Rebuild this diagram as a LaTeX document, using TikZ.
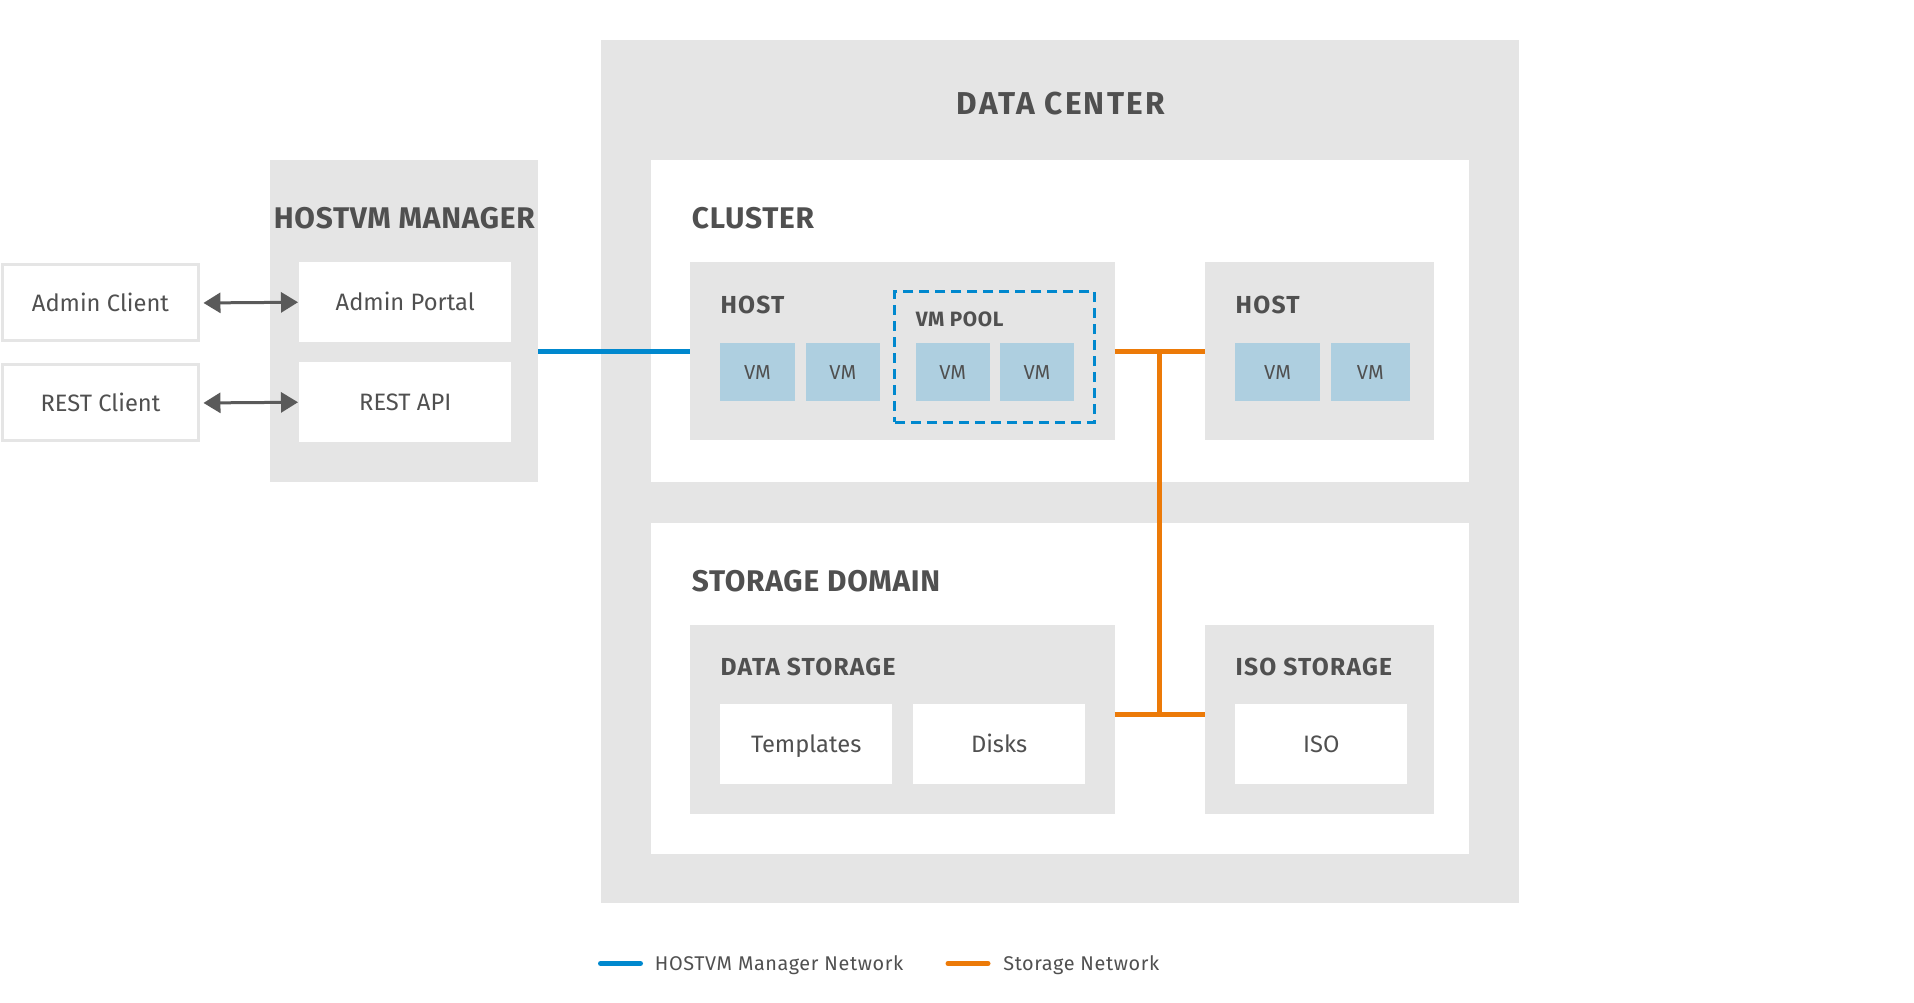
\documentclass[tikz,border=0pt]{standalone}
\usepackage{fontspec}
\setmainfont{Fira Sans}
\usetikzlibrary{arrows.meta}

\definecolor{boxgray}{HTML}{E5E5E5}
\definecolor{vmblue}{HTML}{AECFE0}
\definecolor{txtgray}{HTML}{505050}
\definecolor{netblue}{HTML}{0088CE}
\definecolor{netorange}{HTML}{EC7A08}
\definecolor{arrowgray}{HTML}{5A5A5A}

\begin{document}
\begin{tikzpicture}[x=0.02cm,y=-0.02cm,>={Triangle[length=0.34cm,width=0.4cm]},text=txtgray]
\tikzstyle{area}=[fill=boxgray,draw=none,inner sep=0,outer sep=0,anchor=north west]
\tikzstyle{panel}=[fill=white,draw=none,inner sep=0,outer sep=0,anchor=north west,text height=9.3pt,text depth=0pt,font=\fontsize{13.5}{16}\selectfont]
\tikzstyle{client}=[panel,draw=boxgray,line width=0.06cm]
\tikzstyle{vm}=[fill=vmblue,draw=none,inner sep=0,outer sep=0,anchor=north west,minimum height=1.17cm,text height=7.9pt,text depth=0pt,font=\fontsize{11.5}{14}\selectfont]
\tikzstyle{title}=[anchor=base west,inner sep=0,font=\bfseries\fontsize{17}{20}\selectfont\addfontfeature{LetterSpace=2.5}]
\tikzstyle{subtitle}=[anchor=base west,inner sep=0,font=\bfseries\fontsize{14}{16}\selectfont\addfontfeature{LetterSpace=5}]
\tikzstyle{legend}=[anchor=base west,inner sep=0,font=\fontsize{11.3}{13}\selectfont\addfontfeature{LetterSpace=3}]
\useasboundingbox (0,0) rectangle (1914,1003);

% data center
\node[area,minimum width=18.38cm,minimum height=17.26cm] (dc) at (600.6,40.3) {};
\node[title,anchor=base,font=\bfseries\fontsize{18}{21}\selectfont\addfontfeature{LetterSpace=7}] (dctitle) at (1060.8,114.3) {DATA CENTER};

% cluster
\node[panel,minimum width=16.38cm,minimum height=6.45cm] (cluster) at (650.6,159.9) {};
\node[title] (cltitle) at (691.5,229) {CLUSTER};
\node[area,minimum width=8.5cm,minimum height=3.56cm] (host1) at (689.7,262.5) {};
\node[subtitle] (h1title) at (720.2,313.3) {HOST};
\node[vm,minimum width=1.49cm] (vm1) at (720.2,343) {VM};
\node[vm,minimum width=1.49cm] (vm2) at (805.6,343) {VM};
\node[draw=netblue,line width=0.055cm,dash pattern=on 0.2cm off 0.12cm,inner sep=0,outer sep=0,anchor=north west,minimum width=4cm,minimum height=2.61cm] (pool) at (894.8,291.7) {};
\node[subtitle,font=\bfseries\fontsize{11.8}{14}\selectfont\addfontfeature{LetterSpace=3}] (pooltitle) at (915.5,326.7) {VM POOL};
\node[vm,minimum width=1.49cm] (vm3) at (915.5,343) {VM};
\node[vm,minimum width=1.49cm] (vm4) at (999.7,343) {VM};
\node[area,minimum width=4.59cm,minimum height=3.56cm] (host2) at (1204.8,262.5) {};
\node[subtitle] (h2title) at (1235.3,313.3) {HOST};
\node[vm,minimum width=1.69cm] (vm5) at (1235.3,343) {VM};
\node[vm,minimum width=1.59cm] (vm6) at (1330.6,343) {VM};

% storage domain
\node[panel,minimum width=16.38cm,minimum height=6.64cm] (sd) at (650.6,522.5) {};
\node[title] (sdtitle) at (691.5,591) {STORAGE DOMAIN};
\node[area,minimum width=8.5cm,minimum height=3.78cm] (dstore) at (689.7,625) {};
\node[subtitle] (dstitle) at (720.2,675) {DATA STORAGE};
\node[panel,minimum width=3.44cm,minimum height=1.59cm] (templ) at (720.2,704.3) {Templates};
\node[panel,minimum width=3.44cm,minimum height=1.59cm] (disks) at (913.1,704.3) {Disks};
\node[area,minimum width=4.59cm,minimum height=3.78cm] (istore) at (1204.8,625) {};
\node[subtitle] (istitle) at (1235.3,675) {ISO STORAGE};
\node[panel,minimum width=3.44cm,minimum height=1.59cm] (iso) at (1235.3,704.3) {ISO};

% manager
\node[area,minimum width=5.37cm,minimum height=6.45cm] (hvm) at (269.8,159.9) {};
\node[title,anchor=base] (hvmtitle) at (404.3,228.5) {HOSTVM MANAGER};
\node[panel,minimum width=4.25cm,minimum height=1.59cm] (portal) at (299,262.5) {Admin Portal};
\node[panel,minimum width=4.25cm,minimum height=1.59cm] (api) at (299,362.5) {REST API};

% clients
\node[client,minimum width=3.92cm,minimum height=1.52cm] (aclient) at (2.5,265) {Admin Client};
\node[client,minimum width=3.92cm,minimum height=1.52cm] (rclient) at (2.5,365) {REST Client};

\draw[<->,arrowgray,line width=0.06cm,shorten <=0.1cm,shorten >=0.02cm] (aclient.east) -- (portal.west);
\draw[<->,arrowgray,line width=0.06cm,shorten <=0.1cm,shorten >=0.02cm] (rclient.east) -- (api.west);

% networks
\draw[netblue,line width=0.1cm] (hvm.east |- host1.west) -- (host1.west);
\coordinate (jtop) at (1159.7,351.6);
\coordinate (jbot) at (1159.7,714);
\draw[netorange,line width=0.1cm] (host1.east) -- (host2.west);
\draw[netorange,line width=0.1cm] (jtop) -- (jbot);
\draw[netorange,line width=0.1cm] (dstore.east |- jbot) -- (istore.west |- jbot);

% legend
\coordinate (lb1) at (600.5,963.5);
\coordinate (lb2) at (640.5,963.5);
\coordinate (lo1) at (948,963.5);
\coordinate (lo2) at (988,963.5);
\draw[netblue,line width=0.1cm,line cap=round] (lb1) -- (lb2);
\draw[netorange,line width=0.1cm,line cap=round] (lo1) -- (lo2);
\node[legend] (lbtext) at (654.6,970) {HOSTVM Manager Network};
\node[legend] (lotext) at (1003,970) {Storage Network};
\end{tikzpicture}
\end{document}
